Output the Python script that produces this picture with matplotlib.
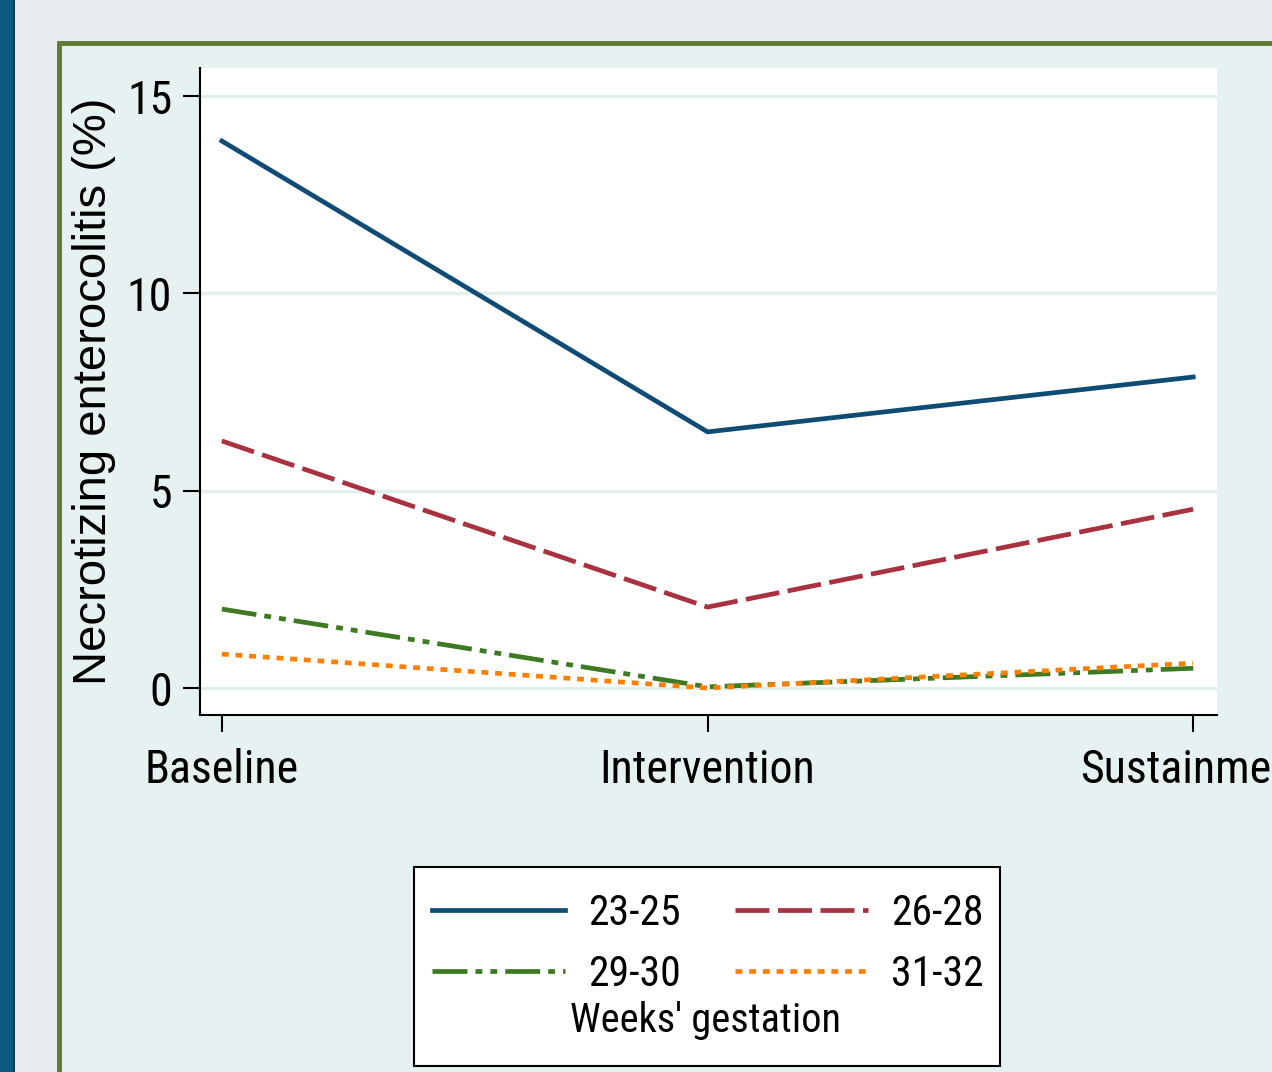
import matplotlib
matplotlib.use("Agg")
import matplotlib.pyplot as plt
import matplotlib.patches as mpatches
from matplotlib import font_manager

names = {f.name for f in font_manager.fontManager.ttflist}
narrow = [n for n in ["Liberation Sans Narrow", "Roboto Condensed", "Open Sans Condensed"] if n in names]
plt.rcParams['font.family'] = narrow + ['Liberation Sans', 'DejaVu Sans']
regular = ['Liberation Sans', 'DejaVu Sans']

# data
periods = ["Baseline", "Intervention", "Sustainment"]
groups = ["23-25", "26-28", "29-30", "31-32"]
nec_23_25 = [13.86, 6.49, 7.88]
nec_26_28 = [6.26, 2.05, 4.53]
nec_29_30 = [2.0, 0.03, 0.5]
nec_31_32 = [0.86, 0.0, 0.63]
y_ticks = [0, 5, 10, 15]

W, H = 1272, 1072


def fx(px):
    return px / W


def fy(py):
    return 1 - py / H


fig = plt.figure(figsize=(W / 100, H / 100), dpi=100)
fig.patch.set_facecolor("#e8ebf0")

# dark strip on the left, green-bordered panel
fig.patches.append(mpatches.Rectangle((0, 0), fx(13), 1, transform=fig.transFigure,
                                      facecolor="#0b5a80", edgecolor="none", zorder=-3))
fig.patches.append(mpatches.Rectangle((fx(13), 0), fx(2), 1, transform=fig.transFigure,
                                      facecolor="#173a4f", edgecolor="none", zorder=-3))
fig.patches.append(mpatches.Rectangle((fx(59), fy(1090)), fx(1240), fy(43) - fy(1090),
                                      transform=fig.transFigure, facecolor="#e6f2f2",
                                      edgecolor="#5f7a36", linewidth=3.5, zorder=-3))

ax = fig.add_axes([fx(200), fy(715), fx(1217) - fx(200), fy(68) - fy(715)])
ax.set_zorder(2)
ax.set_facecolor("white")

x = range(len(periods))
lw = 3.4
ax.plot(x, nec_23_25, color="#0f4c75", lw=lw, label=groups[0], zorder=3)
ax.plot(x, nec_26_28, color="#a83240", lw=lw, dashes=(7.2, 1.8), label=groups[1], zorder=3)
ax.plot(x, nec_29_30, color="#3d7a22", lw=lw, dashes=(7.4, 1.7, 1.45, 1.7, 1.45, 1.7), label=groups[2], zorder=3)
ax.plot(x, nec_31_32, color="#ff8000", lw=lw, dashes=(1.45, 1.45), label=groups[3], zorder=4)

ax.set_xlim(-0.045, 2.049)
ax.set_ylim(-0.684, 15.71)
ax.set_xticks(list(x))
ax.set_xticklabels(periods, fontsize=33)
ax.set_yticks(y_ticks)
ax.set_yticklabels([str(t) for t in y_ticks], fontsize=33)
ax.set_ylabel("Necrotizing enterocolitis (%)", fontsize=34, family=regular, labelpad=8)

ax.grid(axis="y", color="#e2efef", linewidth=2.5)
ax.set_axisbelow(True)
for s in ["top", "right"]:
    ax.spines[s].set_visible(False)
for s in ["left", "bottom"]:
    ax.spines[s].set_linewidth(1.5)
ax.tick_params(axis="both", length=12, width=1.5, direction="out", pad=8)
ax.tick_params(axis="x", pad=12)

# legend box with the title underneath (Stata style)
fig.patches.append(mpatches.Rectangle((fx(414), fy(1066)), fx(1000) - fx(414), fy(867) - fy(1066),
                                      transform=fig.transFigure, facecolor="white",
                                      edgecolor="black", linewidth=1.5, zorder=-1))
handles, labels = ax.get_legend_handles_labels()
order = [0, 2, 1, 3]  # row-wise: 23-25 | 26-28 / 29-30 | 31-32
leg = fig.legend([handles[i] for i in order], [labels[i] for i in order], ncol=2,
                 loc="upper left", bbox_to_anchor=(fx(411), fy(872)), frameon=False,
                 fontsize=30, handlelength=3.2, handletextpad=0.55, columnspacing=1.3,
                 labelspacing=0.48, borderpad=0)
fig.text(fx(706), fy(1021), "Weeks' gestation", fontsize=29, ha="center", va="center")

fig.savefig("out.png", dpi=100)
